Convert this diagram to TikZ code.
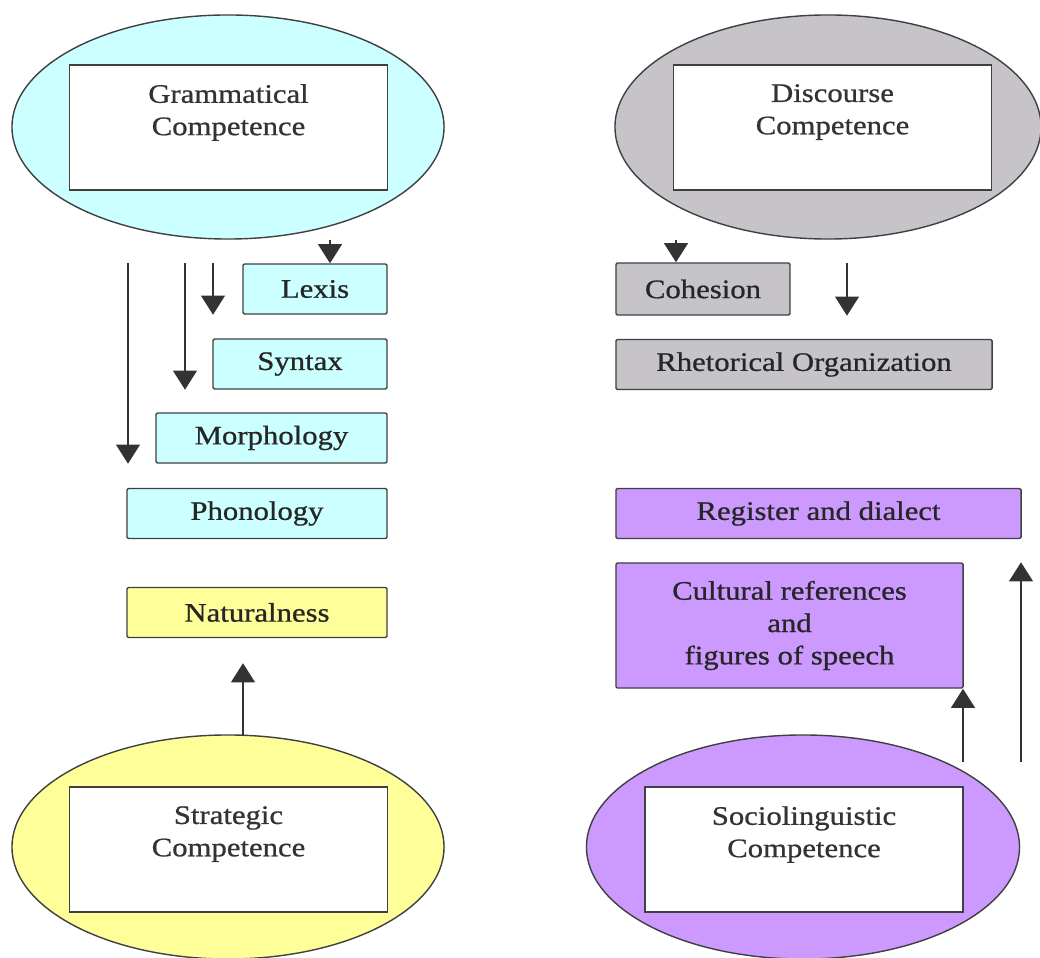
\documentclass[tikz,border=0pt]{standalone}
\usepackage{fontspec}
\setmainfont{Liberation Serif}[FakeStretch=1.15, FakeBold=0.8]
\usepackage{tikz}
\usetikzlibrary{shapes.geometric,arrows.meta}

\definecolor{gramcyan}{HTML}{CCFFFF}
\definecolor{discgray}{HTML}{C6C4C8}
\definecolor{stratyellow}{HTML}{FFFF99}
\definecolor{sociopurple}{HTML}{CC99FF}
\definecolor{edgegray}{HTML}{404040}

\begin{document}
\begin{tikzpicture}[x=0.025cm, y=-0.025cm,
        font=\fontsize{19}{23}\selectfont,
        oval/.style={draw=edgegray, ellipse, line width=1pt, inner sep=0pt, minimum width=10.8cm, minimum height=5.6cm},
        inner/.style={draw=edgegray, rectangle, fill=white, line width=1pt, minimum width=7.95cm, minimum height=3.125cm},
        box/.style={draw=edgegray, rectangle, rounded corners=1pt, line width=1pt, minimum height=1.25cm, align=center, text=black!85},
        arrow/.style={-{Triangle[width=0.6cm,length=0.48cm]}, line width=1pt, draw=black!80}
    ]
\useasboundingbox (0,0) rectangle (1040,958);

\node[oval, fill=gramcyan] (gram) at (228, 127) {};
        \node[inner, label={[anchor=north, align=center, yshift=-0.375cm, text=black!80]north:Grammatical\\Competence}] (gramIn) at (228.5, 127.5) {};

        \node[oval, fill=discgray, minimum width=10.65cm] (disc) at (828, 127) {};
        \node[inner, label={[anchor=north, align=center, yshift=-0.375cm, text=black!80]north:Discourse\\Competence}] (discIn) at (832.5, 127.5) {};

        \node[oval, fill=stratyellow] (strat) at (228, 847) {};
        \node[inner, label={[anchor=north, align=center, yshift=-0.375cm, text=black!80]north:Strategic\\Competence}] (stratIn) at (228.5, 849.5) {};

        \node[oval, fill=sociopurple, minimum width=10.825cm] (socio) at (803, 847) {};
        \node[inner, label={[anchor=north, align=center, yshift=-0.375cm, text=black!80]north:Sociolinguistic\\Competence}] (socioIn) at (804, 849.5) {};

\node[box, fill=gramcyan, minimum width=3.6cm] (lexis) at (315, 289) {Lexis};
        \node[box, fill=gramcyan, minimum width=4.35cm] (syntax) at (300, 364) {Syntax};
        \node[box, fill=gramcyan, minimum width=5.775cm] (morph) at (271.5, 438) {Morphology};
        \node[box, fill=gramcyan, minimum width=6.5cm] (phon) at (257, 513.5) {Phonology};
        \node[box, fill=stratyellow, minimum width=6.5cm] (natural) at (257, 612.5) {Naturalness};

        \node[box, fill=discgray, minimum width=4.35cm, minimum height=1.3cm] (cohesion) at (703, 289) {Cohesion};
        \node[box, fill=discgray, minimum width=9.4cm] (rhet) at (804, 364.5) {Rhetorical Organization};

        \node[box, fill=sociopurple, minimum width=10.125cm] (register) at (818.5, 513.5) {Register and dialect};
        \node[box, fill=sociopurple, minimum width=8.675cm, minimum height=3.125cm] (cultural) at (789.5, 625.5) {Cultural references\\and\\figures of speech};

\coordinate (lexisTop) at (330, 240);
        \coordinate (morphLine) at (128, 263);
        \coordinate (syntaxLine) at (185, 263);
        \coordinate (lexisLine) at (213, 263);
        \coordinate (cohTop) at (676, 240);
        \coordinate (rhetLine) at (847, 263);
        \coordinate (naturalLine) at (243, 736);
        \coordinate (culturalLine) at (963, 762);
        \coordinate (registerLine) at (1021, 762);

        \draw[arrow] (lexisTop) -- (lexisTop |- lexis.north);
        \draw[arrow] (morphLine) -- (morphLine |- morph.south);
        \draw[arrow] (syntaxLine) -- (syntaxLine |- syntax.south);
        \draw[arrow] (lexisLine) -- (lexisLine |- lexis.south);
        \draw[arrow] (cohTop) -- (cohTop |- cohesion.north);
        \draw[arrow] (rhetLine) -- (rhetLine |- cohesion.south);
        \draw[arrow] (naturalLine) -- ([yshift=-0.625cm]naturalLine |- natural.south);
        \draw[arrow] (culturalLine) -- (culturalLine |- cultural.south);
        \draw[arrow] (registerLine) -- (registerLine |- cultural.north);

    \end{tikzpicture}
\end{document}
